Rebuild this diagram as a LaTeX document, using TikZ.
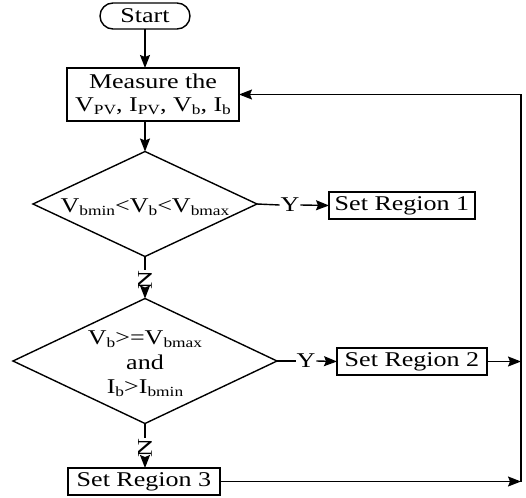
\documentclass[tikz,border=0pt]{standalone}
\usepackage{fontspec}
\setmainfont{Liberation Serif}[FakeStretch=1.24]
\usetikzlibrary{arrows.meta,shapes.geometric}
\newcommand\lsub[1]{\raisebox{-0.35ex}{\fontsize{14}{14}\selectfont #1}}
\begin{document}
\begin{tikzpicture}[x=1pt,y=-1pt,
  every node/.style={font=\fontsize{21}{23}\selectfont, inner sep=0pt, outer sep=0pt},
  box/.style={draw, line width=1.4pt, minimum height=27pt},
  dia/.style={draw, shape=diamond, line width=1.4pt},
  ln/.style={line width=1.4pt},
  arr/.style={line width=1.4pt, -{Stealth[length=13pt,width=10pt,inset=2pt]}},
  lbl/.style={inner sep=1pt}
]
\useasboundingbox (0,0) rectangle (526,497);

\node[draw, line width=1.4pt, rounded corners=13pt, minimum width=90pt, minimum height=26pt] (start) at (145,16) {Start};
\node[box, minimum width=172pt, minimum height=53pt, align=center] (meas) at (153,94.5)
  {Measure the\\[0pt] V\lsub{PV}, I\lsub{PV}, V\lsub{b}, I\lsub{b}};

\node[dia, minimum width=224pt, minimum height=105pt] (d1) at (145,204) {};
\node (t1) at (145,207) {V\lsub{bmin}<V\lsub{b}<V\lsub{bmax}};

\node[lbl] (y1) at (290,205) {Y};
\node[box, minimum width=146pt] (r1) at (402,205.5) {Set Region 1};

\node[lbl, rotate=90] (n1) at (145,280) {N};

\node[dia, minimum width=264pt, minimum height=125pt] (d2) at (145,361) {};
\node[align=center] (t2) at (145,364) {V\lsub{b}>=V\lsub{bmax}\\[1.5pt] and\\[1.5pt] I\lsub{b}>I\lsub{bmin}};

\node[lbl] (y2) at (306,361) {Y};
\node[box, minimum width=150pt] (r2) at (412,361.5) {Set Region 2};

\node[lbl, rotate=90] (n2) at (145,448) {N};

\node[box, minimum width=152pt] (r3) at (144,481.5) {Set Region 3};

\coordinate (c0) at (521,94.5);
\coordinate (c2) at (521,361.5);
\coordinate (c3) at (521,481.5);

\draw[arr] (start) -- (start.south |- meas.north);
\draw[arr] (start.south |- meas.south) -- (d1.north);
\draw[ln] (d1.east) -- (y1.west);
\draw[arr] (y1.east) -- (r1.west);
\draw[ln] (d1.south) -- (n1.east);
\draw[arr] (n1.west) -- (d2.north);
\draw[ln] (d2.east) -- (y2.west);
\draw[arr] (y2.east) -- (r2.west);
\draw[ln] (d2.south) -- (n2.east);
\draw[arr] (n2.west) -- (r3.north -| n2.west);
\draw[arr] (r2.east) -- (c2);
\draw[arr] (r3.east) -- (c3);
\draw[ln] (c3) -- (c0);
\draw[arr] (c0) -- (meas.east);
\end{tikzpicture}
\end{document}
